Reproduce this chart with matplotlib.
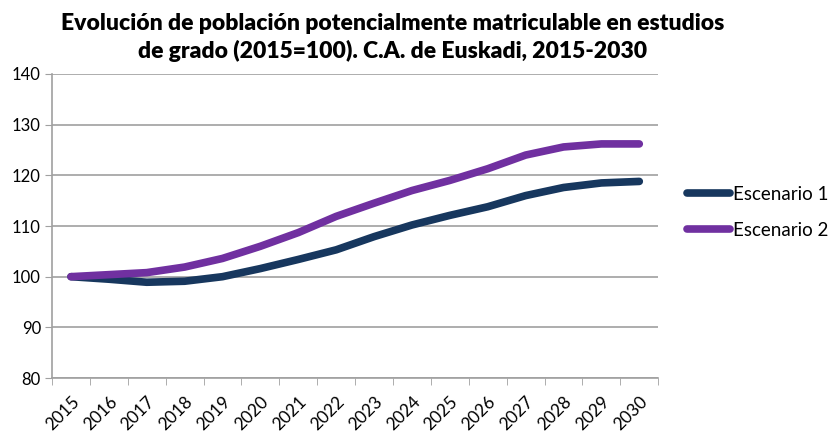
import matplotlib.pyplot as plt
import numpy as np

# Datos
anios = [str(a) for a in range(2015, 2031)]
escenario1 = [100.0, 99.5, 98.9, 99.1, 100.0, 101.6, 103.4, 105.3, 107.9, 110.2,
              112.1, 113.8, 116.0, 117.6, 118.5, 118.8]
escenario2 = [100.0, 100.4, 100.8, 101.9, 103.6, 106.0, 108.7, 111.9, 114.5, 117.0,
              119.0, 121.3, 124.0, 125.6, 126.2, 126.2]

plt.rcParams['font.family'] = ['Lato', 'DejaVu Sans']

fig = plt.figure(figsize=(8.31, 4.34), dpi=100)
ax = fig.add_axes([0.0626, 0.129, 0.7295, 0.7005])

x = np.arange(len(anios))
ax.plot(x, escenario1, color='#17375E', lw=5.5, solid_capstyle='round',
        solid_joinstyle='round', label='Escenario 1')
ax.plot(x, escenario2, color='#7030A0', lw=5.5, solid_capstyle='round',
        solid_joinstyle='round', label='Escenario 2')

ax.set_xlim(-0.5, len(anios) - 0.5)
ax.set_ylim(80, 140)
ax.set_yticks(range(80, 141, 10))
ax.tick_params(axis='y', labelsize=12, length=5, color='#A0A0A0', pad=3)

# etiquetas en el centro, marcas entre categorias
ax.set_xticks(x)
ax.set_xticklabels(anios, rotation=45, ha='right', rotation_mode='anchor', fontsize=12.5)
ax.tick_params(axis='x', which='major', length=0, pad=11)
ax.set_xticks(np.arange(-0.5, len(anios)), minor=True)
ax.tick_params(axis='x', which='minor', length=5, color='#A0A0A0')

ax.grid(axis='y', color='#A0A0A0', lw=1.2)
ax.set_axisbelow(True)
for s in ['top', 'right']:
    ax.spines[s].set_visible(False)
for s in ['left', 'bottom']:
    ax.spines[s].set_color('#A0A0A0')
    ax.spines[s].set_linewidth(1.2)

fig.text(0.472, 0.914, 'Evolución de población potencialmente matriculable en estudios\n'
         'de grado (2015=100). C.A. de Euskadi, 2015-2030',
         ha='center', va='center', fontsize=16.5, fontweight='heavy', linespacing=1.35)

leg = ax.legend(loc='center left', bbox_to_anchor=(1.02, 0.545), frameon=False,
                fontsize=13.5, handlelength=2.3, handletextpad=0.15, labelspacing=1.0)

fig.savefig('out.png', dpi=100)
